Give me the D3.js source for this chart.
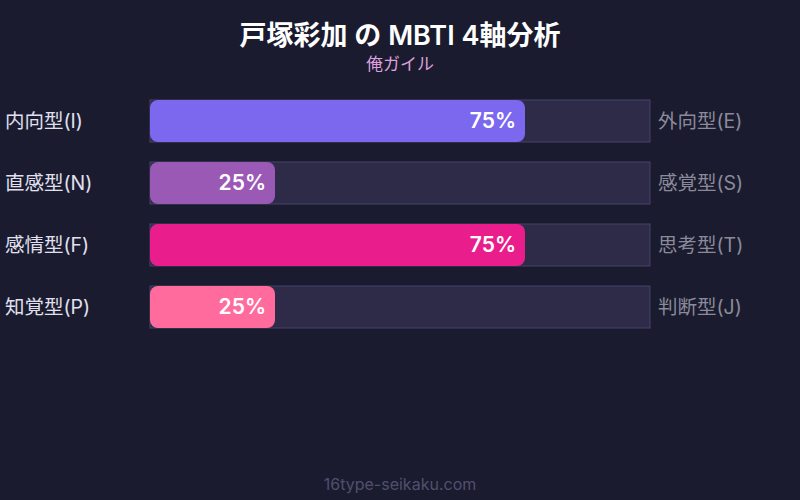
<!DOCTYPE html>
<html><head><meta charset="utf-8">
<script src="https://cdn.jsdelivr.net/npm/d3@7"></script>
<style>html,body{margin:0;padding:0;background:#1a1b2e;}svg{display:block;}</style>
</head><body>
<svg id="c" width="800" height="500"></svg>
<script>
const leftLabels = ["内向型(I)", "直感型(N)", "感情型(F)", "知覚型(P)"];
const rightLabels = ["外向型(E)", "感覚型(S)", "思考型(T)", "判断型(J)"];
const values = [75, 25, 75, 25];
const colors = ["#7b68ee", "#9b59b6", "#e91e8c", "#ff6b9d"];
const title = "戸塚彩加 の MBTI 4軸分析";
const subtitle = "俺ガイル";
const footer = "16type-seikaku.com";

const font = "Inter, 'Noto Sans CJK JP', sans-serif";
const svg = d3.select("#c");
svg.append("rect").attr("width", 800).attr("height", 500).attr("fill", "#1a1b2e");

const x = d3.scaleLinear().domain([0, 100]).range([150, 650]);
const yb = d3.scaleLinear().domain([0, 1]).range([100, 162]);

svg.append("text").attr("x", 400).attr("y", 45).attr("text-anchor", "middle")
  .attr("fill", "#ffffff").attr("font-family", font).attr("font-weight", 600).attr("font-size", 27).text(title);
svg.append("text").attr("x", 400).attr("y", 70).attr("text-anchor", "middle")
  .attr("fill", "#dda0dd").attr("font-family", font).attr("font-size", 17).text(subtitle);

const rows = svg.selectAll("g.row").data(values).join("g").attr("class", "row")
  .attr("transform", (d, i) => `translate(0,${yb(i)})`);

rows.append("rect").attr("x", x(0)).attr("y", 0).attr("width", x(100) - x(0)).attr("height", 42)
  .attr("fill", "#2d2b48").attr("stroke", "#44446a").attr("stroke-width", 1);
rows.append("rect").attr("x", x(0)).attr("y", 0).attr("width", d => x(d) - x(0)).attr("height", 42)
  .attr("rx", 8).attr("fill", (d, i) => colors[i]);
rows.append("text").attr("x", d => x(d) - 9).attr("y", 28).attr("text-anchor", "end")
  .attr("fill", "#ffffff").attr("font-family", font).attr("font-weight", 600).attr("font-size", 21)
  .text(d => d + "%");
rows.append("text").attr("x", 5).attr("y", 28).attr("fill", "#e0e0f0")
  .attr("font-family", font).attr("font-size", 19.5).text((d, i) => leftLabels[i]);
rows.append("text").attr("x", 658).attr("y", 28).attr("fill", "#8a8a9a")
  .attr("font-family", font).attr("font-size", 19.5).text((d, i) => rightLabels[i]);

svg.append("text").attr("x", 400).attr("y", 490).attr("text-anchor", "middle")
  .attr("fill", "#50506e").attr("font-family", font).attr("font-size", 16).text(footer);
</script>
</body></html>
